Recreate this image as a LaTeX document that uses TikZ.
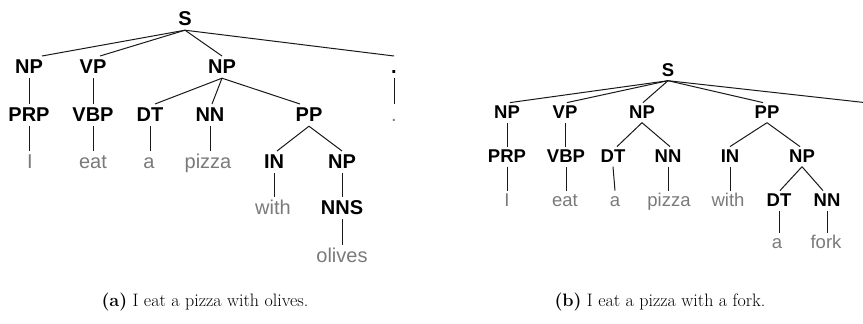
\documentclass[tikz,border=0pt]{standalone}
\usepackage{fontspec}
\newfontfamily\treefont{Liberation Sans}
\usetikzlibrary{calc}
\definecolor{leafgray}{gray}{0.48}
\definecolor{edgecol}{gray}{0.1}
\tikzset{
  nta/.style={font=\treefont\bfseries\fontsize{20}{20}\selectfont, text=black, text height=14.3pt, text depth=2.5pt, inner xsep=0pt, inner ysep=2.5pt, anchor=base},
  lfa/.style={font=\treefont\fontsize{20}{20}\selectfont, text=leafgray, text height=14.3pt, text depth=2.5pt, inner xsep=0pt, inner ysep=2.5pt, anchor=base},
  ntb/.style={font=\treefont\bfseries\fontsize{18.5}{18.5}\selectfont, text=black, text height=13.2pt, text depth=2.5pt, inner xsep=0pt, inner ysep=2pt, anchor=base},
  lfb/.style={font=\treefont\fontsize{18.5}{18.5}\selectfont, text=leafgray, text height=13.2pt, text depth=2.5pt, inner xsep=0pt, inner ysep=2pt, anchor=base},
  edge/.style={draw=edgecol, line width=1pt},
  captxt/.style={font=\fontsize{18}{20}\selectfont, anchor=base, inner sep=0pt},
}
\begin{document}
\begin{tikzpicture}[x=1pt,y=-1pt]
\useasboundingbox (0,0) rectangle (863,324);
\clip (0,0) rectangle (863,324);
% ---------- tree (a) ----------
\node[nta] (aS) at (185,25) {S};
\node[nta] (aNP1) at (29,73) {NP};
\node[nta] (aVP) at (93,73) {VP};
\node[nta] (aNP2) at (222,73) {NP};
\node[nta] (aD1) at (394,73) {.};
\node[nta] (aPRP) at (29,121) {PRP};
\node[nta] (aVBP) at (93,121) {VBP};
\node[nta] (aDT) at (150,121) {DT};
\node[nta] (aNN) at (210,121) {NN};
\node[nta] (aPP) at (309,121) {PP};
\node[lfa] (aD2) at (394,121) {.};
\node[lfa] (aI) at (30,168) {I};
\node[lfa] (aeat) at (93,168) {eat};
\node[lfa] (aa) at (149,168) {a};
\node[lfa] (apizza) at (208,168) {pizza};
\node[nta] (aIN) at (274,168) {IN};
\node[nta] (aNP3) at (342,168) {NP};
\node[lfa] (awith) at (273,214) {with};
\node[nta] (aNNS) at (342,214) {NNS};
\node[lfa] (aolives) at (342,262) {olives};
\draw[edge] (aS.south) -- ([xshift=13pt]aNP1.north);
\draw[edge] (aS.south) -- ([xshift=7pt]aVP.north);
\draw[edge] (aS.south) -- (aNP2.north);
\draw[edge] (aS.south) -- (aD1.north);
\draw[edge] (aNP1.south) -- (aNP1.south |- aPRP.north);
\draw[edge] (aVP.south) -- (aVP.south |- aVBP.north);
\draw[edge] (aD1.south) -- (aD1.south |- aD2.north);
\draw[edge] (aNP2.south) -- ([xshift=5pt]aDT.north);
\draw[edge] (aNP2.south) -- ([xshift=2pt]aNN.north);
\draw[edge] (aNP2.south) -- ([xshift=-9pt]aPP.north);
\draw[edge] (aPRP.south) -- (aPRP.south |- aI.north);
\draw[edge] (aVBP.south) -- (aVBP.south |- aeat.north);
\draw[edge] (aDT.south) -- (aDT.south |- aa.north);
\draw[edge] (aNN.south) -- (aNN.south |- apizza.north);
\draw[edge] (aPP.south) -- ([xshift=3pt]aIN.north);
\draw[edge] (aPP.south) -- (aNP3.north);
\draw[edge] (aIN.south) -- (aIN.south |- awith.north);
\draw[edge] (aNP3.south) -- (aNP3.south |- aNNS.north);
\draw[edge] (aNNS.south) -- (aNNS.south |- aolives.north);
% ---------- tree (b) ----------
\node[ntb] (bS) at (668,76) {S};
\node[ntb] (bNP1) at (507,118) {NP};
\node[ntb] (bVP) at (565,118) {VP};
\node[ntb] (bNP2) at (642,118) {NP};
\node[ntb] (bPP) at (767,118) {PP};
\node[ntb] (bD1) at (865,118) {.};
\node[ntb] (bPRP) at (507,162) {PRP};
\node[ntb] (bVBP) at (566,162) {VBP};
\node[ntb] (bDT) at (613,162) {DT};
\node[ntb] (bNN) at (668,162) {NN};
\node[ntb] (bIN) at (730,162) {IN};
\node[ntb] (bNP3) at (802,162) {NP};
\node[lfb] (bD2) at (865,162) {.};
\node[lfb] (bI) at (507,206) {I};
\node[lfb] (beat) at (565,206) {eat};
\node[lfb] (ba) at (615,206) {a};
\node[lfb] (bpizza) at (669,206) {pizza};
\node[lfb] (bwith) at (728,206) {with};
\node[ntb] (bDT2) at (779,206) {DT};
\node[ntb] (bNN2) at (827,206) {NN};
\node[lfb] (ba2) at (777,248) {a};
\node[lfb] (bfork) at (826,248) {fork};
\draw[edge] (bS.south) -- ([xshift=3pt]bNP1.north);
\draw[edge] (bS.south) -- ([xshift=2pt]bVP.north);
\draw[edge] (bS.south) -- ([xshift=1pt]bNP2.north);
\draw[edge] (bS.south) -- ([xshift=-4pt]bPP.north);
\draw[edge] (bS.south) -- (bD1.north);
\draw[edge] (bNP1.south) -- (bNP1.south |- bPRP.north);
\draw[edge] (bVP.south) -- (bVP.south |- bVBP.north);
\draw[edge] (bD1.south) -- (bD1.south |- bD2.north);
\draw[edge] (bNP2.south) -- ([xshift=4pt]bDT.north);
\draw[edge] (bNP2.south) -- ([xshift=2pt]bNN.north);
\draw[edge] (bPP.south) -- (bIN.north);
\draw[edge] (bPP.south) -- ([xshift=-2pt]bNP3.north);
\draw[edge] (bPRP.south) -- (bPRP.south |- bI.north);
\draw[edge] (bVBP.south) -- (bVBP.south |- beat.north);
\draw[edge] (bDT.south) -- ([xshift=2pt]bDT.south |- ba.north);
\draw[edge] (bNN.south) -- (bNN.south |- bpizza.north);
\draw[edge] (bIN.south) -- (bIN.south |- bwith.north);
\draw[edge] (bNP3.south) -- ([xshift=1pt]bDT2.north);
\draw[edge] (bNP3.south) -- ([xshift=-4pt]bNN2.north);
\draw[edge] (bDT2.south) -- (bDT2.south |- ba2.north);
\draw[edge] (bNN2.south) -- (bNN2.south |- bfork.north);
% ---------- captions ----------
\node[captxt] (capa) at (205,306) {\textbf{(a)} I eat a pizza with olives.};
\node[captxt] (capb) at (660,306) {\textbf{(b)} I eat a pizza with a fork.};
\end{tikzpicture}
\end{document}
